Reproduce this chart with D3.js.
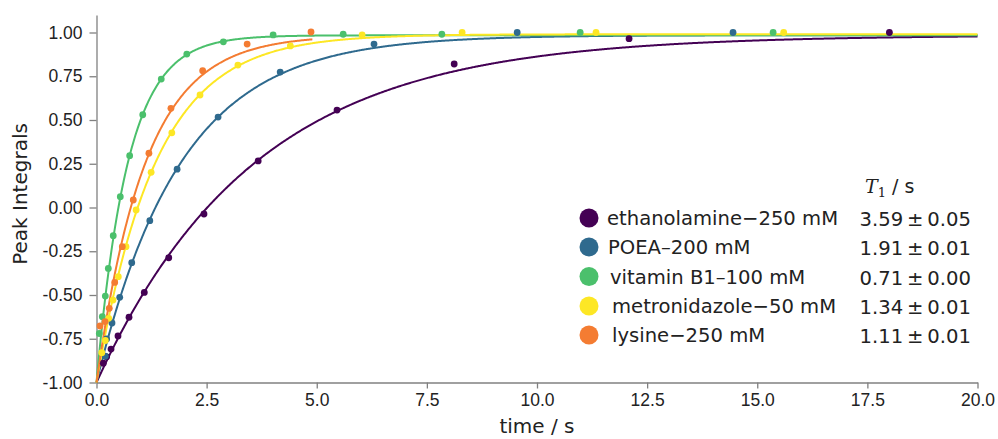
<!DOCTYPE html>
<html>
<head>
<meta charset="utf-8">
<script src="https://cdnjs.cloudflare.com/ajax/libs/d3/7.8.5/d3.min.js"></script>
<style>
  body { margin: 0; background: #fff; }
  svg { display: block; font-family: "DejaVu Sans", Verdana, sans-serif; }
  .axis path, .axis line { stroke: #808080; stroke-width: 1.3; }
  .axis text { fill: #222; font-size: 17.5px; }
</style>
</head>
<body>
<svg id="chart"></svg>
<script>
// series, in legend order
var names = ["ethanolamine\u2212250 mM", "POEA\u2013200 mM", "vitamin B1\u2013100 mM", "metronidazole\u221250 mM", "lysine\u2212250 mM"];
var colors = ["#440154", "#2f6a8e", "#4bc06c", "#fde725", "#f47c32"];
var t1 = [3.59, 1.91, 0.71, 1.34, 1.11];
var t1err = ["0.05", "0.01", "0.00", "0.01", "0.01"];
var plateau = [0.985, 0.985, 0.984, 0.99, 0.985];
var fitEnd = [20, 20, 20, 20, 4.9];

// measured points [time, integral]
var ethanolamine = [[0.155, -0.89], [0.23, -0.853], [0.33, -0.809], [0.488, -0.734], [0.738, -0.627], [1.085, -0.485], [1.64, -0.287], [2.44, -0.037], [3.67, 0.266], [5.46, 0.557], [8.12, 0.82], [12.09, 0.965], [18.0, 1.0]];
var poea = [[0.2, -0.85], [0.23, -0.751], [0.352, -0.66], [0.527, -0.513], [0.8, -0.315], [1.21, -0.075], [1.83, 0.219], [2.76, 0.517], [4.17, 0.774], [6.3, 0.934], [9.55, 1.0], [14.45, 1.0]];
var vitaminB1 = [[0.064, -0.72], [0.132, -0.624], [0.2, -0.506], [0.268, -0.348], [0.38, -0.161], [0.54, 0.062], [0.753, 0.296], [1.05, 0.53], [1.47, 0.734], [2.05, 0.877], [2.88, 0.947], [4.01, 0.986], [5.6, 0.99], [7.84, 0.99], [10.98, 1.0], [15.36, 1.0]];
var metronidazole = [[0.12, -0.83], [0.2, -0.76], [0.277, -0.633], [0.375, -0.529], [0.495, -0.395], [0.67, -0.224], [0.9, -0.014], [1.24, 0.201], [1.71, 0.427], [2.35, 0.643], [3.21, 0.814], [4.4, 0.923], [6.03, 0.986], [8.3, 1.0], [11.34, 1.0], [15.6, 1.0]];
var lysine = [[0.08, -0.677], [0.193, -0.652], [0.29, -0.576], [0.413, -0.428], [0.586, -0.224], [0.835, 0.043], [1.19, 0.31], [1.69, 0.567], [2.41, 0.782], [3.42, 0.934], [4.87, 1.003]];
var points = [ethanolamine, poea, vitaminB1, metronidazole, lysine];

var xTicks = [0, 2.5, 5, 7.5, 10, 12.5, 15, 17.5, 20];
var yTicks = [-1, -0.75, -0.5, -0.25, 0, 0.25, 0.5, 0.75, 1];

var W = 998, H = 439;
var svg = d3.select("#chart").attr("width", W).attr("height", H);

var x = d3.scaleLinear().domain([0, 20]).range([96.5, 977.5]);
var y = d3.scaleLinear().domain([-1, 1.1]).range([382.5, 15]);

svg.append("g")
    .attr("class", "x axis")
    .attr("transform", "translate(0," + y(-1) + ")")
    .call(d3.axisBottom(x).tickValues(xTicks).tickFormat(d3.format(".1f")).tickSize(6).tickPadding(5).tickSizeOuter(0));

svg.append("g")
    .attr("class", "y axis")
    .attr("transform", "translate(" + x(0) + ",0)")
    .call(d3.axisLeft(y).tickValues(yTicks).tickFormat(d3.format(".2f")).tickSize(7).tickPadding(7).tickSizeOuter(0));

svg.selectAll(".axis text").text(function() { return this.textContent.replace("\u2212", "-"); });

svg.append("text")
    .attr("x", x(10))
    .attr("y", 433)
    .attr("text-anchor", "middle")
    .style("font-size", "20px")
    .attr("fill", "#222")
    .text("time / s");

svg.append("text")
    .attr("transform", "translate(27," + 194 + ") rotate(-90)")
    .attr("text-anchor", "middle")
    .style("font-size", "20px")
    .attr("fill", "#222")
    .text("Peak Integrals");

// fitted curves from the legend T1 values
var line = d3.line()
    .x(function(d) { return x(d[0]); })
    .y(function(d) { return y(d[1]); });

names.forEach(function(n, i) {
    var fit = d3.range(0, fitEnd[i] + 1e-9, 0.02).map(function(t) {
        return [t, plateau[i] - (plateau[i] + 1) * Math.exp(-t / t1[i])];
    });
    svg.append("path")
        .datum(fit)
        .attr("fill", "none")
        .attr("stroke", colors[i])
        .attr("stroke-width", 2)
        .attr("d", line);
});

names.forEach(function(n, i) {
    svg.append("g").selectAll("circle")
        .data(points[i])
        .enter().append("circle")
        .attr("cx", function(d) { return x(d[0]); })
        .attr("cy", function(d) { return y(d[1]); })
        .attr("r", 3.4)
        .attr("fill", colors[i]);
});

// legend
var legend = svg.append("g").attr("class", "legend");
var rowY = [218, 247, 276.5, 306, 335];
var textX = [607, 608, 610, 612, 612];

var title = legend.append("text")
    .attr("x", 865)
    .attr("y", 193)
    .style("font-size", "19px")
    .attr("fill", "#222");
title.append("tspan").style("font-family", "DejaVu Serif").style("font-style", "italic").text("T");
title.append("tspan").attr("dy", 4).style("font-family", "DejaVu Serif").style("font-size", "13px").text("1");
title.append("tspan").attr("dy", -4).text(" / s");

names.forEach(function(n, i) {
    legend.append("circle")
        .attr("cx", 589)
        .attr("cy", rowY[i])
        .attr("r", 9.5)
        .attr("fill", colors[i]);
    legend.append("text")
        .attr("x", textX[i])
        .attr("y", rowY[i] + 7)
        .style("font-size", "19.6px")
        .attr("fill", "#222")
        .text(n);
    legend.append("text")
        .attr("x", 971)
        .attr("y", rowY[i] + 8)
        .attr("text-anchor", "end")
        .style("font-size", "19.6px")
        .attr("fill", "#222")
        .text(t1[i].toFixed(2) + "\u2009\u00b1\u2009" + t1err[i]);
});
</script>
</body>
</html>
